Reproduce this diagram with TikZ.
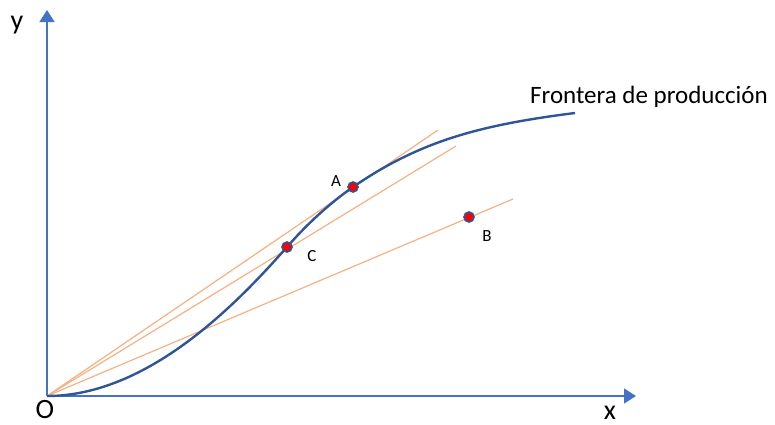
\documentclass[tikz,border=0pt]{standalone}
\usepackage{fontspec}
\setmainfont{Carlito}
\usepackage{xcolor}
\usetikzlibrary{positioning,arrows.meta}
\definecolor{axisblue}{HTML}{4472C4}
\definecolor{curveblue}{HTML}{2F5597}
\definecolor{rayorange}{HTML}{F4B183}

\begin{document}
\begin{tikzpicture}[x=0.5pt,y=-0.5pt,
  axis/.style={axisblue,line width=0.75pt,-{Triangle[length=6pt,width=7.5pt]}},
  ray/.style={rayorange,line width=0.6pt},
  dot/.style={circle,fill=red,draw=curveblue,line width=0.8pt,inner sep=0pt,minimum size=5pt},
  axlbl/.style={inner sep=0pt,font=\fontsize{14}{15}\selectfont},
  ptlbl/.style={inner sep=0pt,font=\fontsize{8.5}{10}\selectfont}]
\useasboundingbox (0,0) rectangle (775,424);
\coordinate (O) at (47,396);
\coordinate (ytip) at (47,10);
\coordinate (xtip) at (636,396);
\coordinate (A) at (353,187);
\coordinate (B) at (469,217);
\coordinate (C) at (287,247);
\coordinate (rayA) at (438,130);
\coordinate (rayC) at (456,146);
\coordinate (rayB) at (513,199);
\coordinate (fend) at (575,113);
% axes
\draw[axis] (O)--(ytip);
\draw[axis] (O)--(xtip);
% rays from the origin
\draw[ray] (O)--(rayA);
\draw[ray] (O)--(rayC);
\draw[ray] (O)--(rayB);
% frontier
\draw[curveblue,line width=1.2pt] (O) .. controls (150,396) and (240,300) .. (C)
  .. controls (307,224) and (330,203) .. (A)
  .. controls (420,141) and (480,125) .. (fend);
\node[dot] (ptA) at (A) {};
\node[dot] (ptB) at (B) {};
\node[dot] (ptC) at (C) {};
\node[ptlbl] (lA) at (336,181) {A};
\node[ptlbl] (lB) at (487,236) {B};
\node[ptlbl] (lC) at (312,256) {C};
\node[axlbl] (ly) at (17,25) {y};
\node[axlbl] (lO) at (45,409) {O};
\node[axlbl] (lx) at (610,413) {x};
\node[inner sep=0pt,font=\fontsize{12.5}{14}\selectfont] (front) at (649,97) {Frontera de producción};
\end{tikzpicture}
\end{document}
